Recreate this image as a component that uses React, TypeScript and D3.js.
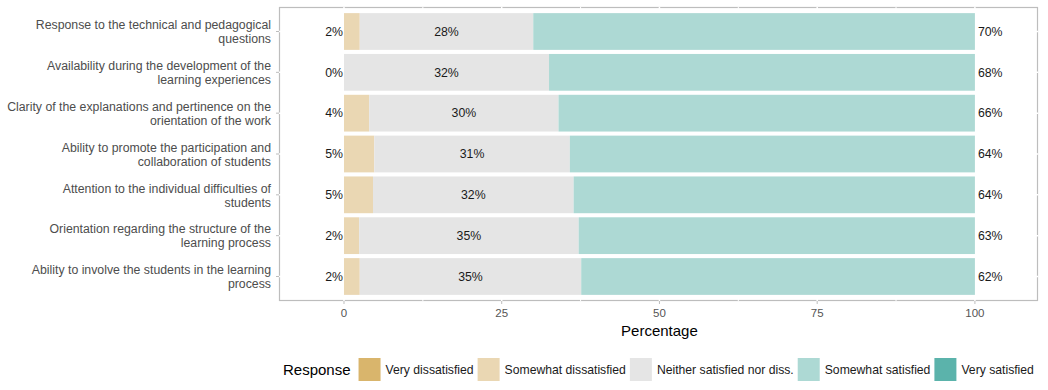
import React, { useEffect, useRef } from 'react';
import * as d3 from 'd3';

const categories = [
  'Response to the technical and pedagogical\nquestions',
  'Availability during the development of the\nlearning experiences',
  'Clarity of the explanations and pertinence on the\norientation of the work',
  'Ability to promote the participation and\ncollaboration of students',
  'Attention to the individual difficulties of\nstudents',
  'Orientation regarding the structure of the\nlearning process',
  'Ability to involve the students in the learning\nprocess'
];

const responses = [
  'Very dissatisfied',
  'Somewhat dissatisfied',
  'Neither satisfied nor diss.',
  'Somewhat satisfied',
  'Very satisfied'
];

const veryDissatisfied = [0, 0, 0, 0, 0, 0, 0];
const somewhatDissatisfied = [2.5, 0, 4.0, 4.8, 4.6, 2.4, 2.5];
const neutral = [27.5, 32.5, 30.0, 31.0, 31.8, 34.8, 35.1];
const somewhatSatisfied = [70.0, 67.5, 66.0, 64.2, 63.6, 62.8, 62.4];
const verySatisfied = [0, 0, 0, 0, 0, 0, 0];

const lowLabels = ['2%', '0%', '4%', '5%', '5%', '2%', '2%'];
const midLabels = ['28%', '32%', '30%', '31%', '32%', '35%', '35%'];
const highLabels = ['70%', '68%', '66%', '64%', '64%', '63%', '62%'];

const xTicks = [0, 25, 50, 75, 100];
const xMinor = [12.5, 37.5, 62.5, 87.5];

const colors = ['#d9b56c', '#ead7b3', '#e5e5e5', '#add9d4', '#5bb3ab'];

const FONT = 'Liberation Sans, Arial, Helvetica, sans-serif';

function App() {
  const svgRef = useRef<SVGSVGElement>(null);

  useEffect(() => {
    const width = 1048;
    const height = 390;
    const panel = { left: 279, right: 1038, top: 7, bottom: 301 };

    const svg = d3.select(svgRef.current);
    svg.selectAll('*').remove();
    svg.attr('width', width).attr('height', height);

    const x = d3.scaleLinear().domain([-10.3, 110]).range([panel.left, panel.right]);
    const y = d3.scaleBand()
      .domain(categories)
      .range([panel.top, panel.bottom])
      .paddingInner(0.1)
      .paddingOuter(0.15);

    const series = [veryDissatisfied, somewhatDissatisfied, neutral, somewhatSatisfied, verySatisfied];
    const rows = categories.map((c, i) => {
      const row: any = { category: c };
      responses.forEach((r, j) => { row[r] = series[j][i]; });
      return row;
    });
    const stacked = d3.stack().keys(responses)(rows);

    // panel
    svg.append('rect')
      .attr('x', panel.left + 0.5)
      .attr('y', panel.top + 0.5)
      .attr('width', panel.right - panel.left - 1)
      .attr('height', panel.bottom - panel.top - 1)
      .attr('fill', '#fff')
      .attr('stroke', '#bdbdbd')
      .attr('stroke-width', 1.2);

    // grid (white, over the border)
    svg.append('g').selectAll('line.minor')
      .data(xMinor)
      .enter()
      .append('line')
      .attr('x1', (d) => x(d))
      .attr('x2', (d) => x(d))
      .attr('y1', panel.top)
      .attr('y2', panel.bottom)
      .attr('stroke', '#fff')
      .attr('stroke-width', 1);

    svg.append('g').selectAll('line.major')
      .data(xTicks)
      .enter()
      .append('line')
      .attr('x1', (d) => x(d))
      .attr('x2', (d) => x(d))
      .attr('y1', panel.top)
      .attr('y2', panel.bottom)
      .attr('stroke', '#fff')
      .attr('stroke-width', 1.5);

    svg.append('g').selectAll('line')
      .data(categories)
      .enter()
      .append('line')
      .attr('x1', panel.left)
      .attr('x2', panel.right)
      .attr('y1', (d) => y(d)! + y.bandwidth() / 2)
      .attr('y2', (d) => y(d)! + y.bandwidth() / 2)
      .attr('stroke', '#fff')
      .attr('stroke-width', 1.5);

    // ticks
    svg.append('g').selectAll('line')
      .data(xTicks)
      .enter()
      .append('line')
      .attr('x1', (d) => x(d))
      .attr('x2', (d) => x(d))
      .attr('y1', panel.bottom)
      .attr('y2', panel.bottom + 3)
      .attr('stroke', '#bdbdbd');

    svg.append('g').selectAll('line')
      .data(categories)
      .enter()
      .append('line')
      .attr('x1', panel.left - 3)
      .attr('x2', panel.left)
      .attr('y1', (d) => y(d)! + y.bandwidth() / 2)
      .attr('y2', (d) => y(d)! + y.bandwidth() / 2)
      .attr('stroke', '#bdbdbd');

    // bars
    svg.append('g').selectAll('g')
      .data(stacked)
      .enter()
      .append('g')
      .attr('fill', (d, i) => colors[i])
      .selectAll('rect')
      .data((d) => d)
      .enter()
      .append('rect')
      .attr('x', (d) => x(d[0]))
      .attr('y', (d: any) => y(d.data.category)!)
      .attr('width', (d) => Math.max(0, x(d[1]) - x(d[0])))
      .attr('height', y.bandwidth());

    // value labels
    const labels = svg.append('g')
      .attr('font-family', FONT)
      .attr('font-size', 12.3)
      .attr('fill', '#1a1a1a');

    labels.selectAll('text.low')
      .data(categories)
      .enter()
      .append('text')
      .attr('x', x(0) - 1)
      .attr('y', (d) => y(d)! + y.bandwidth() / 2)
      .attr('dy', '0.35em')
      .attr('text-anchor', 'end')
      .text((d, i) => lowLabels[i]);

    labels.selectAll('text.mid')
      .data(categories)
      .enter()
      .append('text')
      .attr('x', (d, i) => x((stacked[2][i][0] + stacked[2][i][1]) / 2))
      .attr('y', (d) => y(d)! + y.bandwidth() / 2)
      .attr('dy', '0.35em')
      .attr('text-anchor', 'middle')
      .text((d, i) => midLabels[i]);

    labels.selectAll('text.high')
      .data(categories)
      .enter()
      .append('text')
      .attr('x', x(100) + 3)
      .attr('y', (d) => y(d)! + y.bandwidth() / 2)
      .attr('dy', '0.35em')
      .attr('text-anchor', 'start')
      .text((d, i) => highLabels[i]);

    // y axis labels
    const yText = svg.append('g')
      .attr('font-family', FONT)
      .attr('font-size', 12.3)
      .attr('fill', '#4d4d4d')
      .selectAll('text')
      .data(categories)
      .enter()
      .append('text')
      .attr('text-anchor', 'end')
      .attr('y', (d) => y(d)! + y.bandwidth() / 2 + 0.5);

    yText.selectAll('tspan')
      .data((d) => d.split('\n').map((t, i, arr) => ({ t, i, n: arr.length })))
      .enter()
      .append('tspan')
      .attr('x', 271)
      .attr('dy', (d) => (d.i === 0 ? `${-(d.n - 1) * 0.57 + 0.35}em` : '1.14em'))
      .text((d) => d.t);

    // x axis labels
    svg.append('g')
      .attr('font-family', FONT)
      .attr('font-size', 11.5)
      .attr('fill', '#555')
      .selectAll('text')
      .data(xTicks)
      .enter()
      .append('text')
      .attr('x', (d) => x(d))
      .attr('y', 317)
      .attr('text-anchor', 'middle')
      .text((d) => d);

    svg.append('text')
      .attr('x', x(50))
      .attr('y', 336)
      .attr('text-anchor', 'middle')
      .attr('font-family', FONT)
      .attr('font-size', 15)
      .attr('fill', '#000')
      .text('Percentage');

    // legend
    const legend = svg.append('g')
      .attr('font-family', FONT);

    const title = legend.append('text')
      .attr('x', 283)
      .attr('y', 375)
      .attr('font-size', 15)
      .attr('fill', '#000')
      .text('Response');

    let cx = 283 + (title.node() as SVGTextElement).getComputedTextLength() + 8;
    responses.forEach((r, i) => {
      legend.append('rect')
        .attr('x', cx)
        .attr('y', 358)
        .attr('width', 22)
        .attr('height', 23)
        .attr('fill', colors[i]);
      const t = legend.append('text')
        .attr('x', cx + 27)
        .attr('y', 374)
        .attr('font-size', 12.2)
        .attr('fill', '#1a1a1a')
        .text(r);
      cx += 27 + (t.node() as SVGTextElement).getComputedTextLength() + 4;
    });
  }, []);

  return (
    <div style={{ position: 'absolute', left: 0, top: 0 }}>
      <svg ref={svgRef} />
    </div>
  );
}

export default App;
